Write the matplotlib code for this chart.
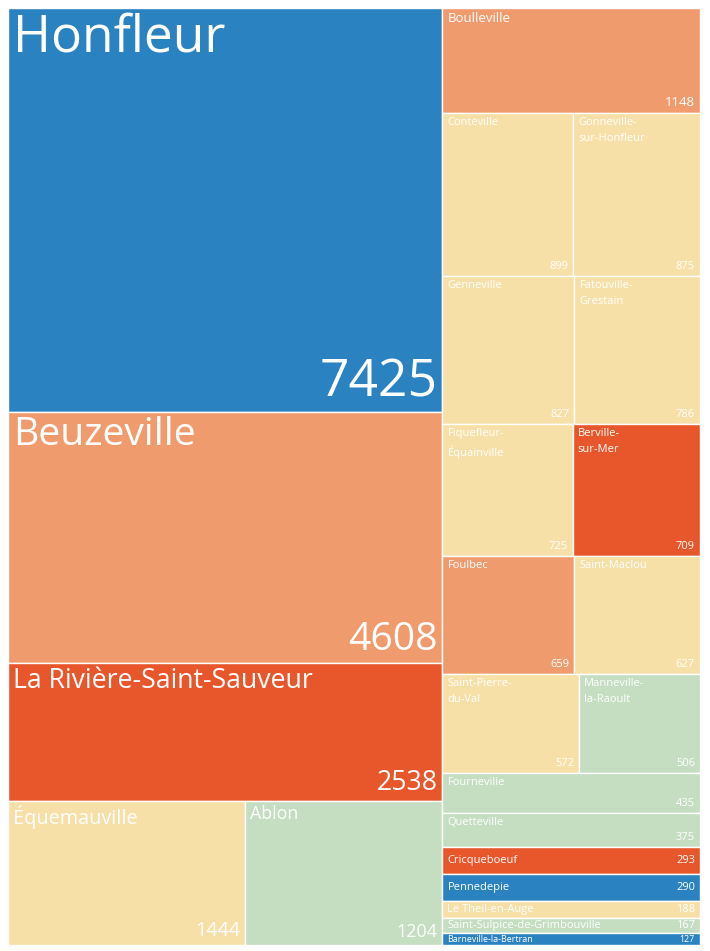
import matplotlib.pyplot as plt
from matplotlib.patches import Rectangle

# communes et population
communes = ["Honfleur", "Beuzeville", "La Rivière-Saint-Sauveur", "Équemauville", "Ablon",
            "Boulleville", "Conteville", "Gonneville-sur-Honfleur", "Genneville",
            "Fatouville-Grestain", "Fiquefleur-Équainville", "Berville-sur-Mer", "Foulbec",
            "Saint-Maclou", "Saint-Pierre-du-Val", "Manneville-la-Raoult", "Fourneville",
            "Quetteville", "Cricqueboeuf", "Pennedepie", "Le Theil-en-Auge",
            "Saint-Sulpice-de-Grimbouville", "Barneville-la-Bertran"]
population = [7425, 4608, 2538, 1444, 1204,
              1148, 899, 875, 827,
              786, 725, 709, 659,
              627, 572, 506, 435,
              375, 293, 290, 188,
              167, 127]

BLEU, ORANGE, ROUGE, JAUNE, VERT = "#2B82C0", "#F09B6E", "#E8572C", "#F7E0A8", "#C5DEC2"
couleurs = [BLEU, ORANGE, ROUGE, JAUNE, VERT,
            ORANGE, JAUNE, JAUNE, JAUNE,
            JAUNE, JAUNE, ROUGE, ORANGE,
            JAUNE, JAUNE, VERT, VERT,
            VERT, ROUGE, BLEU, JAUNE,
            VERT, BLEU]

# regroupement en colonnes puis en lignes (indices dans les listes ci-dessus)
colonnes = [
    [[0], [1], [2], [3, 4]],
    [[5], [6, 7], [8, 9], [10, 11], [12, 13], [14, 15], [16], [17], [18], [19], [20], [21], [22]],
]

W_PX, H_PX = 692, 937
fig = plt.figure(figsize=(7.10, 9.51), dpi=100)
ax = fig.add_axes([8 / 710, 6 / 951, W_PX / 710, H_PX / 951])
ax.set_xlim(0, 1)
ax.set_ylim(1, 0)
ax.axis("off")


def couper(nom, largeur_px, fs):
    # coupe au tiret le plus proche du milieu si le nom est trop long
    cw = 0.55 * fs * 100 / 72
    if len(nom) * cw < 0.72 * largeur_px or "-" not in nom:
        return nom
    tirets = [k for k, c in enumerate(nom) if c == "-"]
    k = min(tirets, key=lambda t: abs(t - len(nom) / 2))
    return nom[:k + 1] + "\n" + nom[k + 1:]


total = sum(population)
x0 = 0.0
for col in colonnes:
    s_col = sum(population[i] for row in col for i in row)
    wc = s_col / total
    y0 = 0.0
    for row in col:
        s_row = sum(population[i] for i in row)
        hr = s_row / s_col
        x = x0
        for i in row:
            w = wc * population[i] / s_row
            ax.add_patch(Rectangle((x, y0), w, hr, facecolor=couleurs[i],
                                   edgecolor="white", linewidth=1.0))
            wpx, hpx = w * W_PX, hr * H_PX
            nom = communes[i]
            if x0 == 0.0:
                fs = min(0.0337 * (wpx * hpx) ** 0.58, 0.11 * hpx + 4)
            else:
                fs = 9.5 if len(row) == 1 and hpx > 80 else 8
                nom = couper(nom, wpx, fs)
            fs = min(fs, 0.55 * hpx)
            dx, dy = 5 / W_PX, 4 / H_PX
            if hpx >= 30:
                ax.text(x + dx, y0 + dy, nom, color="white",
                        fontsize=fs, family="Open Sans", va="top", ha="left", linespacing=1.6)
                ax.text(x + w - dx, y0 + hr - dy, str(population[i]), color="white",
                        fontsize=fs, family="Open Sans", va="bottom", ha="right")
            else:
                ax.text(x + dx, y0 + hr / 2, nom, color="white",
                        fontsize=fs, family="Open Sans", va="center", ha="left")
                ax.text(x + w - dx, y0 + hr / 2, str(population[i]), color="white",
                        fontsize=fs, family="Open Sans", va="center", ha="right")
            x += w
        y0 += hr
    x0 += wc

fig.savefig("out.png", dpi=100, facecolor="white")
